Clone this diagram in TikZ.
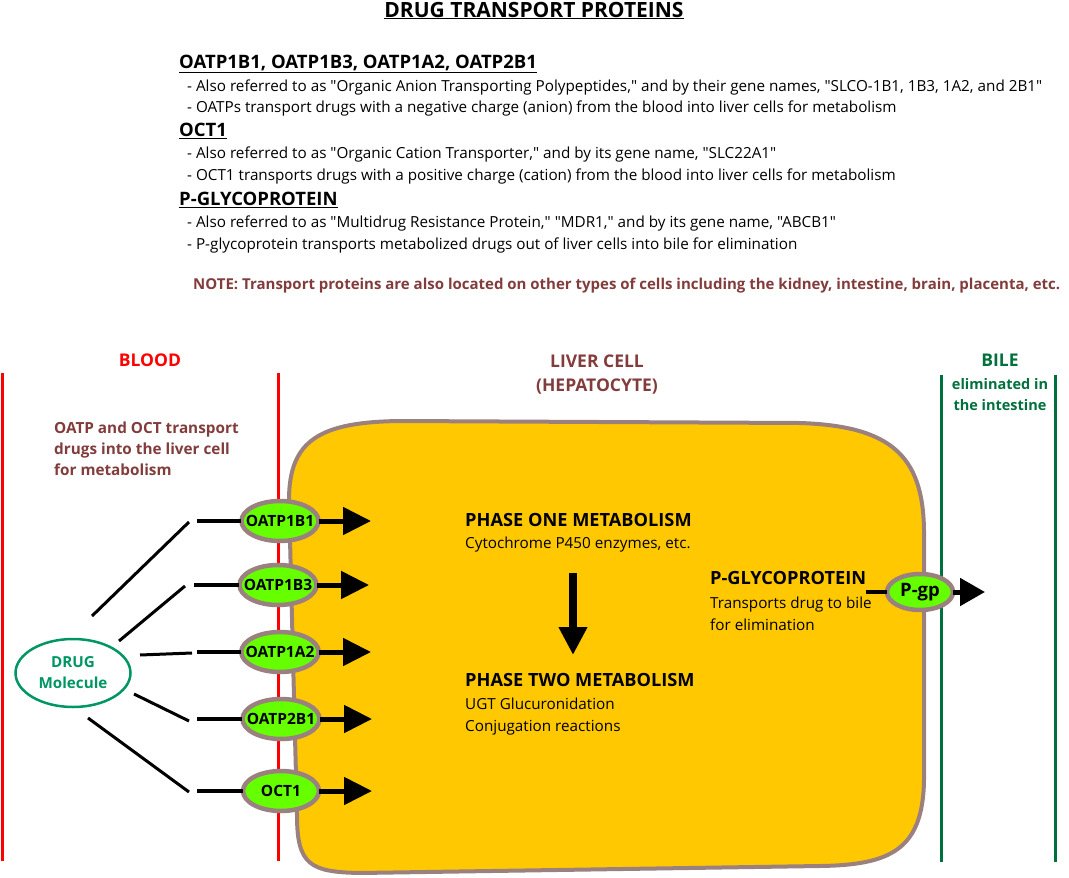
\documentclass[tikz,border=0pt]{standalone}
\usepackage{fontspec}
\setmainfont{Open Sans}[Ligatures=TeXOff]
\usetikzlibrary{arrows.meta,shapes.geometric}
\definecolor{cellgold}{RGB}{255,200,0}
\definecolor{cellrim}{RGB}{155,128,128}
\definecolor{protgreen}{RGB}{102,255,0}
\definecolor{notebrown}{RGB}{130,60,60}
\definecolor{bilegreen}{RGB}{0,112,60}
\definecolor{druggreen}{RGB}{0,150,100}

\begin{document}
\begin{tikzpicture}[x=1pt, y=-1pt,
    prot/.style={draw=cellrim, line width=4.5pt, ellipse, fill=protgreen, inner ysep=0pt, inner xsep=-7pt,
        minimum width=76pt, minimum height=40pt, font=\fontsize{15.5}{18}\selectfont\bfseries},
    body/.style={anchor=west, align=left, inner sep=0pt, font=\fontsize{15.25}{21.5}\selectfont},
    head/.style={anchor=base west, inner sep=0pt, font=\fontsize{18.5}{22}\selectfont\bfseries},
    label/.style={inner sep=0pt, align=center, font=\fontsize{17.5}{24.5}\selectfont\bfseries},
    phase/.style={anchor=base west, inner sep=0pt, font=\fontsize{18.2}{22}\selectfont\bfseries},
    feed/.style={line width=4pt},
    inarrow/.style={line width=5pt, -{Triangle[length=28pt,width=27pt]}}]
    \useasboundingbox (0,0) rectangle (1069,878);

    % header text
    \node[inner sep=0pt, font=\fontsize{21}{24}\selectfont\bfseries, anchor=base] (title) at (534,17) {\underline{DRUG TRANSPORT PROTEINS}};
    \node[head] (hoatp) at (179,68.5) {\underline{OATP1B1, OATP1B3, OATP1A2, OATP2B1}};
    \node[body] (toatp) at (187,98) {- Also referred to as "Organic Anion Transporting Polypeptides," and by their gene names, "SLCO-1B1, 1B3, 1A2, and 2B1"\\- OATPs transport drugs with a negative charge (anion) from the blood into liver cells for metabolism};
    \node[head] (hoct) at (179,136.5) {\underline{OCT1}};
    \node[body] (toct) at (187,165.5) {- Also referred to as "Organic Cation Transporter," and by its gene name, "SLC22A1"\\- OCT1 transports drugs with a positive charge (cation) from the blood into liver cells for metabolism};
    \node[head] (hpgp) at (179,205.5) {\underline{P-GLYCOPROTEIN}};
    \node[body] (tpgp) at (187,234.5) {- Also referred to as "Multidrug Resistance Protein," "MDR1," and by its gene name, "ABCB1"\\- P-glycoprotein transports metabolized drugs out of liver cells into bile for elimination};
    \node[body, text=notebrown, font=\fontsize{15}{20}\selectfont\bfseries] (note) at (193,285.5) {NOTE: Transport proteins are also located on other types of cells including the kidney, intestine, brain, placenta, etc.};

    % compartments
    \draw[red, line width=3pt] (2,373) -- (2,861);
    \draw[red, line width=3pt] (278,373) -- (278,861);
    \draw[bilegreen, line width=3pt] (941,375) -- (941,862);
    \draw[bilegreen, line width=3pt] (1055,375) -- (1055,862);
    \draw[cellrim, line width=4pt, fill=cellgold] (289,500) .. controls (289,440) and (320,422) .. (400,421)
        -- (800,423) .. controls (890,426) and (923,455) .. (924,530) -- (924,780)
        .. controls (923,850) and (890,865) .. (820,866) -- (360,873)
        .. controls (310,872) and (297,865) .. (297,815) -- cycle;

    \node[label, text=red, anchor=base] (blood) at (150,366.5) {BLOOD};
    \node[label, text=notebrown, anchor=base] (liver) at (597,391.5) {LIVER CELL\\(HEPATOCYTE)};
    \node[label, text=bilegreen, anchor=base] (bile) at (1000,366.5) {BILE};
    \node[label, text=bilegreen, anchor=north, font=\fontsize{14.5}{21.5}\selectfont\bfseries] (bilenote) at (1000,378) {eliminated in\\the intestine};
    \node[body, text=notebrown, font=\fontsize{15.3}{21}\selectfont\bfseries] (bloodnote) at (54,449) {OATP and OCT transport\\drugs into the liver cell\\for metabolism};

    % transporters
    \node[prot] (p1) at (280,521) {OATP1B1};
    \node[prot] (p2) at (278,585) {OATP1B3};
    \node[prot] (p3) at (280,652) {OATP1A2};
    \node[prot] (p4) at (281,719) {OATP2B1};
    \node[prot] (p5) at (281,791) {OCT1};
    \node[prot, inner xsep=0pt, minimum width=66pt, minimum height=36pt, font=\fontsize{18.5}{20}\selectfont\bfseries] (pgp) at (920,592) {P-gp};

    \node[draw=druggreen, line width=2.5pt, ellipse, minimum width=115pt, minimum height=68pt, inner sep=0pt,
        align=center, text=druggreen, font=\fontsize{15.2}{21}\selectfont\bfseries] (drug) at (73,673) {DRUG\\Molecule};

    % drug to transporters
    \coordinate (d1) at (92,616);  \coordinate (e1) at (189,522);
    \coordinate (d2) at (119,641); \coordinate (e2) at (185,586);
    \coordinate (d3) at (140,655); \coordinate (e3) at (192,653);
    \coordinate (d4) at (134,694); \coordinate (e4) at (189,721);
    \coordinate (d5) at (88,718);  \coordinate (e5) at (189,792);
    \foreach \i in {1,...,5}
        \draw[line width=3pt] (d\i) -- (e\i);
    \coordinate (f1) at (197,521);
    \coordinate (f2) at (194,585);
    \coordinate (f3) at (197,652);
    \coordinate (f4) at (197,719);
    \coordinate (f5) at (197,791);
    \foreach \i in {1,...,5}
        \draw[feed] (f\i) -- ([xshift=2pt]p\i.west);

    % into the cell
    \coordinate (h1) at (371,521);
    \coordinate (h2) at (369,585);
    \coordinate (h3) at (371,652);
    \coordinate (h4) at (372,719);
    \coordinate (h5) at (372,791);
    \foreach \i in {1,...,5}
        \draw[inarrow] ([xshift=-2pt]p\i.east) -- (h\i);

    % metabolism
    \node[phase] (one) at (465,526.5) {PHASE ONE METABOLISM};
    \node[body, anchor=base west] (onetxt) at (465,548.5) {Cytochrome P450 enzymes, etc.};
    \node[phase] (two) at (465,686.5) {PHASE TWO METABOLISM};
    \node[body] (twotxt) at (465,716.5) {UGT Glucuronidation\\Conjugation reactions};
    \coordinate (down) at (573,573);
    \coordinate (downend) at (573,655);
    \draw[line width=7.5pt, -{Triangle[length=28pt,width=27pt]}] (down) -- (downend);

    % efflux
    \node[phase] (pgly) at (710,584.5) {P-GLYCOPROTEIN};
    \node[body] (pglytxt) at (710,614) {Transports drug to bile\\for elimination};
    \coordinate (g1) at (866,592);
    \coordinate (g2) at (985,592);
    \draw[feed] (g1) -- ([xshift=2pt]pgp.west);
    \draw[line width=5pt, -{Triangle[length=25pt,width=27pt]}] ([xshift=-2pt]pgp.east) -- (g2);
\end{tikzpicture}
\end{document}
